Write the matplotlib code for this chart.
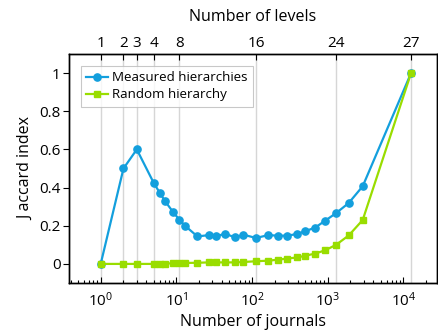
import matplotlib
matplotlib.use("Agg")
import matplotlib.pyplot as plt
import numpy as np
from matplotlib.ticker import FuncFormatter, LogLocator, NullLocator, NullFormatter

plt.rcParams['font.family'] = ['Open Sans', 'DejaVu Sans']
plt.rcParams['mathtext.fontset'] = 'custom'
plt.rcParams['mathtext.rm'] = 'Open Sans'

# Data
n_journals = [1, 2, 3, 5, 6, 7, 9, 11, 13, 19, 27, 33, 44, 60, 77, 113, 164,
              219, 293, 397, 507, 681, 923, 1290, 1896, 2904, 12650]
measured = [0.0, 0.5, 0.6, 0.426, 0.374, 0.332, 0.273, 0.231, 0.2, 0.144, 0.151,
            0.144, 0.158, 0.139, 0.153, 0.136, 0.151, 0.148, 0.148, 0.157, 0.172,
            0.19, 0.226, 0.266, 0.319, 0.407, 1.0]
random_h = [0.0, 0.0, 0.0, 0.0, 0.001, 0.002, 0.003, 0.004, 0.005, 0.006, 0.008,
            0.008, 0.008, 0.008, 0.01, 0.014, 0.017, 0.022, 0.028, 0.034, 0.043,
            0.054, 0.071, 0.1, 0.149, 0.23, 1.0]
level_labels = [1, 2, 3, 4, 8, 16, 24, 27]

blue = '#139fdd'
green = '#99dd00'

fig = plt.figure(figsize=(4.38, 3.31), dpi=100)
ax = fig.add_axes([69/438, 1-283/331, (437-69)/438, (283-54)/331])
ax.set_xscale('log')
ax.set_xlim(10**-0.419, 10**4.445)
ax.set_ylim(-0.1, 1.1)

ax2 = ax.twiny()
ax2.set_xscale('log')
ax2.set_xlim(ax.get_xlim())
top_pos = [n_journals[l - 1] for l in level_labels]
ax2.set_xticks(top_pos)
ax2.set_xticklabels([str(l) for l in level_labels])
ax2.xaxis.set_minor_locator(NullLocator())
ax2.xaxis.set_minor_formatter(NullFormatter())
ax2.grid(axis='x', color='#d6d6d6', linewidth=1.0)
ax2.set_axisbelow(True)
ax.set_zorder(ax2.get_zorder() + 1)
ax.patch.set_visible(False)

ax.plot(n_journals, measured, '-o', color=blue, lw=1.6, ms=5.2, label='Measured hierarchies')
ax.plot(n_journals, random_h, '-s', color=green, lw=1.6, ms=4.6, label='Random hierarchy')

ax.set_yticks([0, 0.2, 0.4, 0.6, 0.8, 1.0])
ax.yaxis.set_major_formatter(FuncFormatter(lambda v, p: '%g' % v))
ax.xaxis.set_major_locator(LogLocator(base=10, numticks=10))
ax.xaxis.set_minor_locator(LogLocator(base=10, subs=np.arange(2, 10), numticks=10))

ax.tick_params(axis='x', which='both', direction='in', labelsize=11, pad=6)
ax.tick_params(axis='x', which='major', length=4, width=0.8)
ax.tick_params(axis='x', which='minor', length=2.5, width=0.8)
ax.tick_params(axis='y', which='major', direction='out', length=4, width=0.8,
               labelsize=11, pad=2, right=True)
ax2.tick_params(axis='x', which='major', direction='in', length=4, width=0.8,
                labelsize=11, pad=2)

ax.set_xlabel('Number of journals', fontsize=11.5, labelpad=3)
ax.set_ylabel('J accard index', fontsize=11.5, labelpad=4)
ax2.set_xlabel('Number of levels', fontsize=11.5, labelpad=11)

for a in (ax, ax2):
    for s in a.spines.values():
        s.set_linewidth(1.0)

leg = ax.legend(loc='upper left', fontsize=9.6, frameon=True, fancybox=False,
                edgecolor='#bbbbbb', borderaxespad=0.9, handlelength=1.6,
                handletextpad=0.3, borderpad=0.4, labelspacing=0.3)
leg.get_frame().set_linewidth(0.8)

fig.savefig('out.png', dpi=100)
